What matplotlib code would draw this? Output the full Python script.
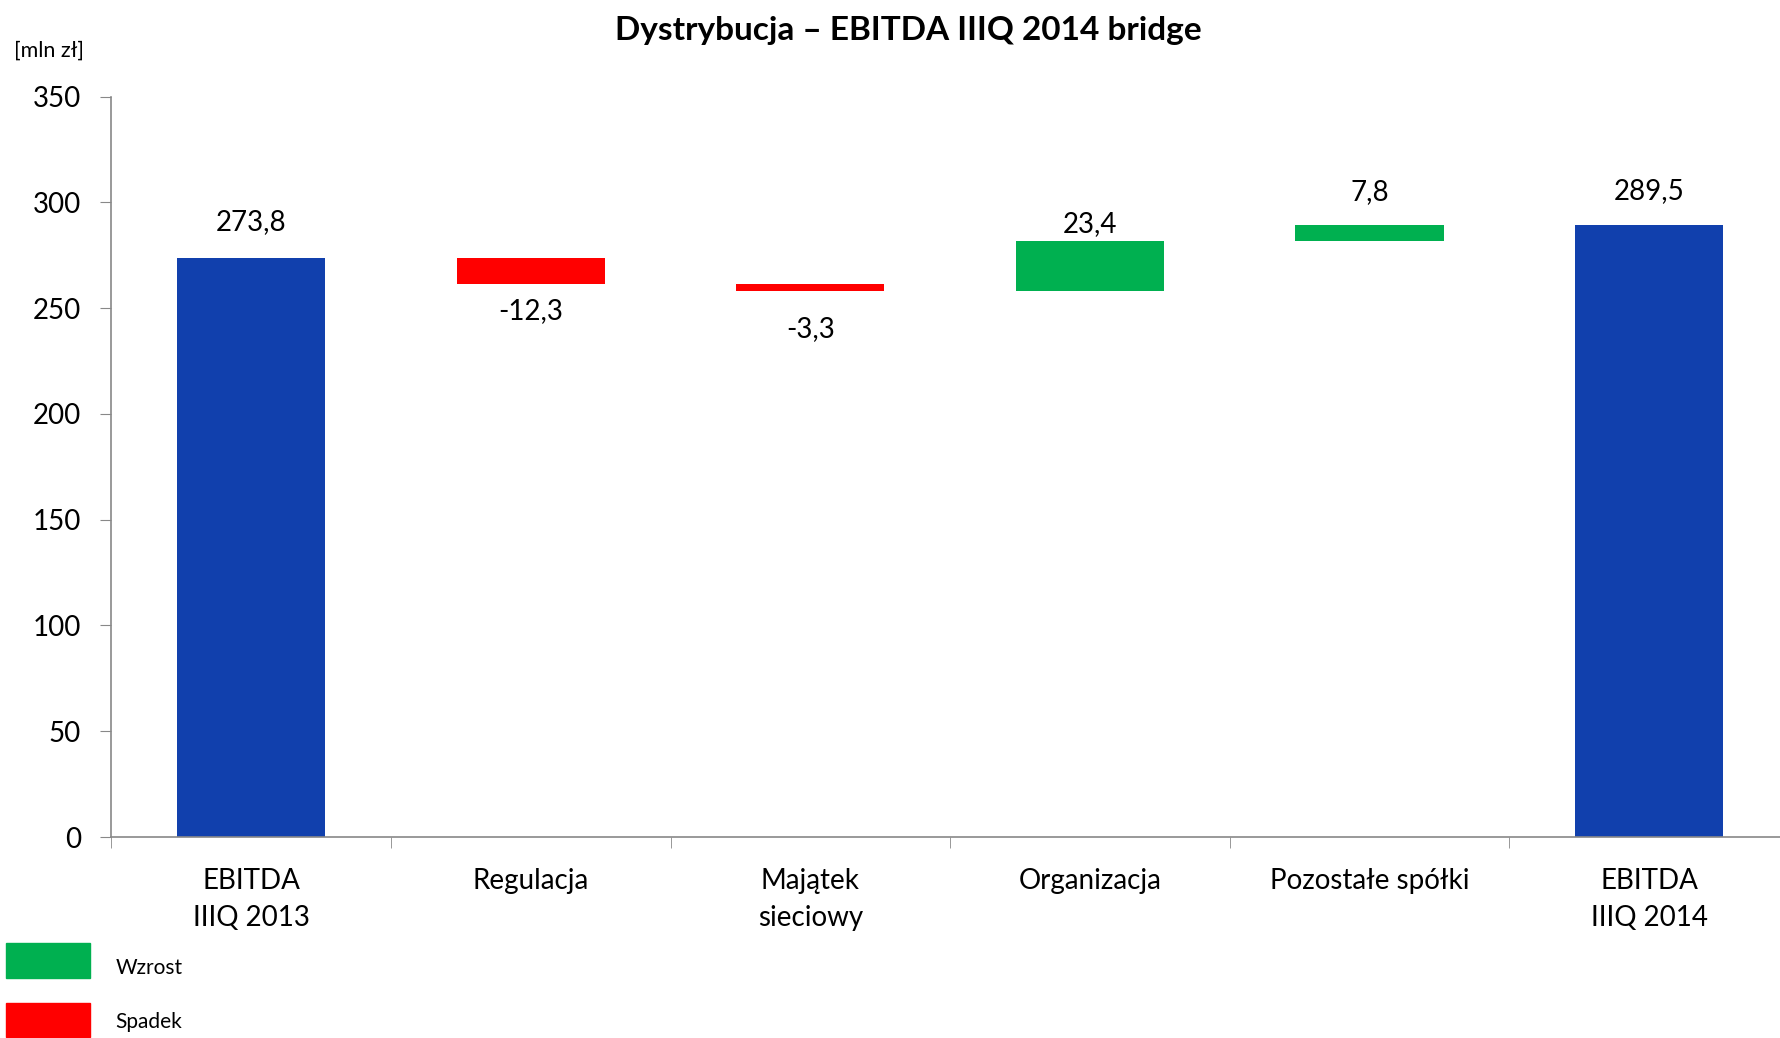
import numpy as np
import matplotlib.pyplot as plt
from matplotlib.patches import Rectangle

plt.rcParams['font.family'] = ['Lato', 'DejaVu Sans']

categories = ['EBITDA\nIIIQ 2013', 'Regulacja', 'Majątek\nsieciowy',
              'Organizacja', 'Pozostałe spółki', 'EBITDA\nIIIQ 2014']
values = [273.8, -12.3, -3.3, 23.4, 7.8, 289.5]
is_total = [True, False, False, False, False, True]
labels = ['273,8', '-12,3', '-3,3', '23,4', '7,8', '289,5']

# label distance from bar edge, in points (Excel placed them unevenly)
label_pad = [16, 10, 18, 3, 14, 15]

BLUE = '#1140AD'
GREEN = '#00B050'
RED = '#FF0000'

fig = plt.figure(figsize=(17.81, 10.38), dpi=100)
ax = fig.add_axes([0.0625, 0.1936, 0.9420, 0.7134])

running = 0.0
x = np.arange(len(categories))
for i, (v, tot) in enumerate(zip(values, is_total)):
    if tot:
        bottom, height, color = 0, v, BLUE
        running = v
    else:
        bottom = running if v > 0 else running + v
        height = abs(v)
        color = GREEN if v > 0 else RED
        running += v
    ax.bar(x[i], height, bottom=bottom, width=0.53, color=color, zorder=2)
    if v < 0 and not tot:
        ax.annotate(labels[i], (x[i], bottom), xytext=(0, -label_pad[i]), textcoords='offset points',
                    ha='center', va='top', fontsize=20)
    else:
        ax.annotate(labels[i], (x[i], bottom + height), xytext=(0, label_pad[i]), textcoords='offset points',
                    ha='center', va='bottom', fontsize=20)

ax.set_xlim(-0.5, 5.5)
ax.set_ylim(0, 350)
ax.set_yticks(np.arange(0, 351, 50))
ax.set_xticks(x)
ax.set_xticklabels(categories, fontsize=20, linespacing=1.55)
ax.set_xticks(np.arange(-0.5, 5.6, 1), minor=True)
ax.tick_params(axis='x', which='major', length=0, pad=22)
ax.tick_params(axis='x', which='minor', length=8, color='#888888', direction='out')
ax.tick_params(axis='y', labelsize=20, length=8, color='#888888', pad=14)
for side in ['top', 'right']:
    ax.spines[side].set_visible(False)
for side in ['left', 'bottom']:
    ax.spines[side].set_color('#888888')
    ax.spines[side].set_linewidth(1.2)

fig.text(0.51, 0.971, 'Dystrybucja – EBITDA IIIQ 2014 bridge', ha='center', va='center',
         fontsize=24, fontweight='bold')
fig.text(0.008, 0.951, '[mln zł]', ha='left', va='center', fontsize=15.5)

# legend boxes
fig.add_artist(Rectangle((0.0034, 1 - 978 / 1038), 0.0472, 35 / 1038,
                         transform=fig.transFigure, color=GREEN))
fig.add_artist(Rectangle((0.0034, 1 - 1037 / 1038), 0.0472, 34 / 1038,
                         transform=fig.transFigure, color=RED))
fig.text(0.065, 1 - 968 / 1038, 'Wzrost', ha='left', va='center', fontsize=15)
fig.text(0.065, 1 - 1022 / 1038, 'Spadek', ha='left', va='center', fontsize=15)

fig.savefig('out.png', dpi=100)
